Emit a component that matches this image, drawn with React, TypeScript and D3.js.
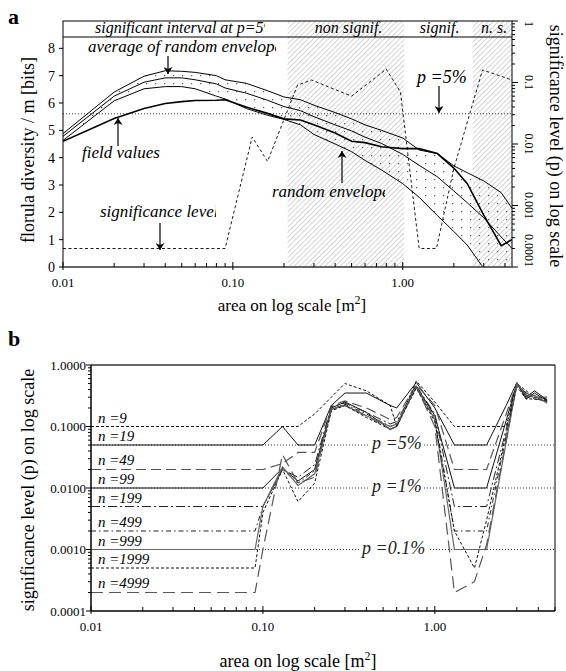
import React from 'react';
import * as d3 from 'd3';

// ---------- panel a data ----------
const areaTop = [0.01, 0.02, 0.03, 0.04, 0.05, 0.06, 0.08, 0.09, 0.12, 0.16, 0.2, 0.25, 0.3, 0.4, 0.5, 0.6, 0.75, 1.0, 1.25, 1.6, 2.0, 2.4, 3.0, 3.8, 4.4];
const upperEnvelope = [4.88, 6.4, 6.98, 7.18, 7.16, 7.12, 7.0, 6.85, 6.72, 6.45, 6.22, 6.12, 5.92, 5.65, 5.42, 5.2, 5.0, 4.72, 4.28, 4.15, 3.7, 3.45, 3.15, 2.72, 2.15];
const averageEnvelope = [4.78, 6.25, 6.76, 6.92, 6.92, 6.85, 6.7, 6.55, 6.36, 6.1, 5.87, 5.72, 5.5, 5.2, 4.98, 4.75, 4.52, 4.12, 3.72, 3.3, 2.78, 2.35, 1.8, 1.1, 0.68];
const lowerEnvelope = [4.63, 6.08, 6.52, 6.6, 6.6, 6.52, 6.25, 6.15, 5.8, 5.55, 5.4, 5.2, 4.85, 4.5, 4.22, 3.9, 3.55, 3.05, 2.55, 1.88, 1.3, 0.8, -0.05, -0.9, -1.5];
const fieldValues = [4.6, 5.43, 5.8, 5.98, 6.05, 6.09, 6.1, 6.12, 5.85, 5.62, 5.42, 5.38, 5.2, 4.9, 4.6, 4.55, 4.4, 4.33, 4.33, 4.15, 3.62, 3.05, 1.9, 0.78, 1.0];
const pArea = [0.01, 0.09, 0.13, 0.16, 0.24, 0.29, 0.5, 0.8, 0.97, 1.25, 1.58, 2.0, 2.95, 4.4];
const pValues = [0.0002, 0.0002, 0.013, 0.0052, 0.09, 0.11, 0.06, 0.165, 0.07, 0.0002, 0.0002, 0.004, 0.16, 0.11];
const pFiveLine = 0.031;
const hatchStart = [0.21, 2.58];
const hatchEnd = [1.02, 4.4];
const bandTexts = ['non signif.', 'signif.', 'n. s.'];
const bandCenters = [0.48, 1.65, 3.45];
const leftTicks = [0, 1, 2, 3, 4, 5, 6, 7, 8];
const xTickLabels = ['0.01', '0.10', '1.00'];
const xTickValues = [0.01, 0.1, 1];
const pTickValues = [1, 0.1, 0.01, 0.001, 0.0001];
const pTickLabels = ['1', '0.1', '0.01', '0.001', '0.0001'];

// ---------- panel b data ----------
const areaBottom = [0.01, 0.09, 0.1, 0.13, 0.16, 0.2, 0.25, 0.3, 0.4, 0.55, 0.6, 0.78, 1.0, 1.3, 1.7, 2.0, 2.6, 3.0, 3.4, 3.8, 4.5];
const pN9 = [0.1, 0.1, 0.1, 0.1, 0.1, 0.16, 0.3, 0.5, 0.38, 0.22, 0.1, 0.55, 0.25, 0.1, 0.1, 0.1, 0.1, 0.5, 0.38, 0.3, 0.28];
const pN19 = [0.05, 0.05, 0.05, 0.1, 0.05, 0.05, 0.22, 0.35, 0.35, 0.22, 0.2, 0.52, 0.2, 0.05, 0.05, 0.05, 0.22, 0.52, 0.3, 0.38, 0.27];
const pN49 = [0.02, 0.02, 0.02, 0.025, 0.038, 0.038, 0.22, 0.26, 0.2, 0.13, 0.14, 0.48, 0.22, 0.02, 0.02, 0.02, 0.16, 0.5, 0.35, 0.3, 0.3];
const pN99 = [0.01, 0.01, 0.01, 0.021, 0.013, 0.02, 0.2, 0.25, 0.17, 0.09, 0.1, 0.45, 0.15, 0.01, 0.01, 0.01, 0.125, 0.5, 0.28, 0.35, 0.26];
const pN199 = [0.005, 0.005, 0.005, 0.02, 0.015, 0.024, 0.21, 0.24, 0.17, 0.11, 0.12, 0.46, 0.16, 0.005, 0.005, 0.005, 0.09, 0.48, 0.35, 0.28, 0.27];
const pN499 = [0.002, 0.002, 0.005, 0.02, 0.012, 0.019, 0.19, 0.23, 0.16, 0.1, 0.11, 0.44, 0.14, 0.002, 0.002, 0.002, 0.07, 0.5, 0.3, 0.3, 0.25];
const pN999 = [0.001, 0.001, 0.005, 0.022, 0.011, 0.017, 0.19, 0.22, 0.15, 0.1, 0.11, 0.44, 0.13, 0.001, 0.001, 0.001, 0.056, 0.5, 0.32, 0.32, 0.24];
const pN1999 = [0.0005, 0.0005, 0.004, 0.02, 0.006, 0.012, 0.18, 0.22, 0.14, 0.09, 0.1, 0.42, 0.12, 0.002, 0.0005, 0.003, 0.076, 0.45, 0.28, 0.28, 0.26];
const pN4999 = [0.0002, 0.0002, 0.001, 0.035, 0.012, 0.015, 0.2, 0.22, 0.15, 0.09, 0.1, 0.45, 0.1, 0.0002, 0.0003, 0.0012, 0.06, 0.5, 0.32, 0.3, 0.25];
const nLabels = ['n =9', 'n =19', 'n =49', 'n =99', 'n =199', 'n =499', 'n =999', 'n =1999', 'n =4999'];
const nBase = [0.1, 0.05, 0.02, 0.01, 0.005, 0.002, 0.001, 0.0005, 0.0002];
const refLevels = [0.05, 0.01, 0.001];
const refLabels = ['p =5%', 'p =1%', 'p =0.1%'];
const bTickValues = [1, 0.1, 0.01, 0.001, 0.0001];
const bTickLabels = ['1.0000', '0.1000', '0.0100', '0.0010', '0.0001'];

const FONT = "'Liberation Serif', 'Times New Roman', Times, 'DejaVu Serif', serif";

const seriesB = [pN9, pN19, pN49, pN99, pN199, pN499, pN999, pN1999, pN4999];
const styleB = [
  { dash: '3,2', color: '#111', w: 1 },
  { dash: null, color: '#111', w: 1 },
  { dash: '10,5', color: '#555', w: 1.2 },
  { dash: null, color: '#111', w: 1 },
  { dash: '9,3,2,3', color: '#222', w: 1 },
  { dash: '5,3,1.5,3', color: '#222', w: 1 },
  { dash: null, color: '#666', w: 1.2 },
  { dash: '3,2', color: '#111', w: 1 },
  { dash: '12,6', color: '#555', w: 1.2 },
];

function minorTicks(min: number, max: number) {
  const out: number[] = [];
  for (let d = min; d < max; d *= 10) {
    for (let k = 2; k <= 9; k++) {
      const v = k * d;
      if (v <= max * 1.0001) out.push(v);
    }
  }
  return out;
}

export default function App() {
  const TL = 63, TR = 512, TT = 21, TB = 267, BAND = 37;
  const xT = d3.scaleLog().domain([0.01, 4.4]).range([TL, TR]);
  const yT = d3.scaleLinear().domain([0, 9]).range([TB, TT]);
  const pT = d3.scaleLog().domain([0.0001, 1]).range([TB, TT]);

  const BL = 91, BR = 555, BT = 365, BB = 611;
  const xB = d3.scaleLog().domain([0.01, 5]).range([BL, BR]);
  const yB = d3.scaleLog().domain([0.0001, 1]).range([BB, BT]);

  const lineT = d3.line<[number, number]>().x(d => xT(d[0])).y(d => yT(d[1]));
  const areaGen = d3.area<number>()
    .x((_, i) => xT(areaTop[i]))
    .y0((_, i) => yT(lowerEnvelope[i]))
    .y1((_, i) => yT(upperEnvelope[i]));
  const pLine = d3.line<[number, number]>().x(d => xT(d[0])).y(d => pT(d[1]));
  const lineB = d3.line<[number, number]>().x(d => xB(d[0])).y(d => yB(d[1]));

  const zip = (xs: number[], ys: number[]) => xs.map((x, i) => [x, ys[i]] as [number, number]);

  const minorT = minorTicks(0.01, 4.4).filter(v => ![0.1, 1].some(m => Math.abs(m - v) < 1e-9));
  const minorB = minorTicks(0.01, 5).filter(v => ![0.1, 1].some(m => Math.abs(m - v) < 1e-9));
  const minorP = minorTicks(0.0001, 1).filter(v => v < 0.99 && ![0.001, 0.01, 0.1, 1].some(m => Math.abs(m - v) / m < 1e-6));

  const serif = { fontFamily: FONT } as React.CSSProperties;
  const ital = { fontFamily: FONT, fontStyle: 'italic' } as React.CSSProperties;

  return (
    <svg width={566} height={671} style={{ position: 'absolute', left: 0, top: 0, background: '#fff', fontFamily: FONT }}>
      <defs>
        <pattern id="hatch" width="3.6" height="3.6" patternUnits="userSpaceOnUse" patternTransform="rotate(45)">
          <line x1="0" y1="0" x2="0" y2="3.6" stroke="#a0a0a0" strokeWidth="0.9" />
        </pattern>
        <pattern id="dots" width="9" height="8" patternUnits="userSpaceOnUse" x="2" y="3">
          <rect x="0" y="0" width="1.2" height="1.2" fill="#555" />
        </pattern>
        <clipPath id="clipTop"><rect x={TL} y={BAND} width={TR - TL} height={TB - BAND} /></clipPath>
        <clipPath id="clipBand1"><rect x={TL} y={TT} width={265 - TL} height={BAND - TT} /></clipPath>
        <clipPath id="clipAvg"><rect x={TL} y={30} width={276 - TL} height={30} /></clipPath>
        <clipPath id="clipSig"><rect x={TL} y={195} width={216 - TL} height={30} /></clipPath>
        <clipPath id="clipRand"><rect x={250} y={180} width={385 - 250} height={25} /></clipPath>
        <clipPath id="clipBot"><rect x={BL} y={BT} width={BR - BL} height={BB - BT} /></clipPath>
        <marker id="arr" viewBox="0 0 10 10" refX="10" refY="5" markerWidth="7" markerHeight="9"
          markerUnits="userSpaceOnUse" orient="auto" preserveAspectRatio="none">
          <path d="M0,0 L10,5 L0,10 L3,5 z" fill="#000" />
        </marker>
      </defs>

      {/* ================= PANEL A ================= */}
      <text x={8} y={24} fontSize={22} fontWeight="bold" style={serif}>a</text>

      {hatchStart.map((s, i) => (
        <rect key={'h' + i} x={xT(s)} y={TT} width={xT(hatchEnd[i]) - xT(s)} height={TB - TT} fill="url(#hatch)" />
      ))}

      <g clipPath="url(#clipTop)">
        <path d={areaGen(areaTop) || ''} fill="url(#dots)" />
        <line x1={TL} x2={TR} y1={pT(pFiveLine)} y2={pT(pFiveLine)} stroke="#000" strokeWidth={0.8} strokeDasharray="1,2" />
        <path d={pLine(zip(pArea, pValues)) || ''} fill="none" stroke="#000" strokeWidth={0.9} strokeDasharray="3,2.5" />
        <path d={lineT(zip(areaTop, upperEnvelope)) || ''} fill="none" stroke="#000" strokeWidth={1} />
        <path d={lineT(zip(areaTop, averageEnvelope)) || ''} fill="none" stroke="#000" strokeWidth={1} />
        <path d={lineT(zip(areaTop, lowerEnvelope)) || ''} fill="none" stroke="#000" strokeWidth={1} />
        <path d={lineT(zip(areaTop, fieldValues)) || ''} fill="none" stroke="#000" strokeWidth={1.6} />
      </g>

      <rect x={TL} y={TT} width={TR - TL} height={TB - TT} fill="none" stroke="#000" strokeWidth={1} />
      <line x1={TL} x2={TR} y1={BAND} y2={BAND} stroke="#000" strokeWidth={1} />
      <line x1={TL} x2={TR} y1={TB} y2={TB} stroke="#666" strokeWidth={1.8} />
      <text x={95} y={33} fontSize={16} style={ital} clipPath="url(#clipBand1)">significant interval at p=5%</text>
      {bandTexts.map((t, i) => (
        <text key={'bt' + i} x={xT(bandCenters[i])} y={33} fontSize={16} textAnchor="middle" style={ital}>{t}</text>
      ))}

      {leftTicks.map(v => (
        <g key={'lt' + v}>
          <line x1={TL - 4} x2={TL} y1={yT(v)} y2={yT(v)} stroke="#000" />
          <text x={TL - 8} y={yT(v)} dy="0.35em" fontSize={14} textAnchor="end" style={serif}>{v}</text>
        </g>
      ))}
      {minorT.map((v, i) => (
        <line key={'mt' + i} x1={xT(v)} x2={xT(v)} y1={TB - 4} y2={TB} stroke="#000" />
      ))}
      {xTickValues.map((v, i) => (
        <g key={'xt' + i}>
          <line x1={xT(v)} x2={xT(v)} y1={TB - 5} y2={TB + 3} stroke="#000" />
          <text x={xT(v)} y={287} fontSize={13} textAnchor="middle" style={serif}>{xTickLabels[i]}</text>
        </g>
      ))}
      {minorP.map((v, i) => (
        <line key={'mp' + i} x1={TR} x2={TR + 3} y1={pT(v)} y2={pT(v)} stroke="#000" />
      ))}
      {pTickValues.map((v, i) => (
        <g key={'pt' + i}>
          <line x1={TR} x2={TR + 6} y1={pT(v)} y2={pT(v)} stroke="#000" />
          <text transform={`translate(${525},${pT(v)}) rotate(90)`} fontSize={12} style={serif}
            textAnchor={i === pTickValues.length - 1 ? 'end' : i === 0 ? 'start' : 'middle'}>{pTickLabels[i]}</text>
        </g>
      ))}

      <text transform={`translate(34,${150}) rotate(-90)`} fontSize={18} textAnchor="middle" style={serif}>florula diversity / m  [bits]</text>
      <text transform={`translate(550,${146}) rotate(90)`} fontSize={18} textAnchor="middle" style={serif}>significance level (p) on log scale</text>
      <text x={292} y={311} fontSize={17} textAnchor="middle" style={serif}>area on log scale  [m<tspan dy={-7} fontSize={12}>2</tspan><tspan dy={7}>]</tspan></text>

      <text x={88} y={52} fontSize={17} style={ital} clipPath="url(#clipAvg)">average of random envelope</text>
      <line x1={168} x2={168} y1={56} y2={74} stroke="#000" strokeWidth={1.2} markerEnd="url(#arr)" />
      <text x={82} y={158} fontSize={17} style={ital}>field values</text>
      <line x1={118} x2={118} y1={146} y2={118} stroke="#000" strokeWidth={1.2} markerEnd="url(#arr)" />
      <text x={100} y={217} fontSize={17} style={ital} clipPath="url(#clipSig)">significance level</text>
      <line x1={160} x2={160} y1={223} y2={250} stroke="#000" strokeWidth={1.2} markerEnd="url(#arr)" />
      <text x={272} y={197} fontSize={17} style={ital} clipPath="url(#clipRand)">random envelope</text>
      <line x1={342} x2={342} y1={183} y2={151} stroke="#000" strokeWidth={1.2} markerEnd="url(#arr)" />
      <text x={417} y={83} fontSize={18} style={ital}>p =5%</text>
      <line x1={439} x2={439} y1={86} y2={113} stroke="#000" strokeWidth={1.2} markerEnd="url(#arr)" />

      {/* ================= PANEL B ================= */}
      <text x={8} y={346} fontSize={22} fontWeight="bold" style={serif}>b</text>

      <g clipPath="url(#clipBot)">
        {refLevels.map((v, i) => (
          <line key={'rl' + i} x1={BL} x2={BR} y1={yB(v)} y2={yB(v)} stroke="#000" strokeWidth={0.8} strokeDasharray="1,2" />
        ))}
        {seriesB.map((s, i) => (
          <path key={'sb' + i} d={lineB(zip(areaBottom, s)) || ''} fill="none" stroke={styleB[i].color}
            strokeWidth={styleB[i].w} strokeDasharray={styleB[i].dash || undefined} />
        ))}
      </g>

      {refLevels.map((v, i) => {
        const x0 = i === 2 ? 362 : 372;
        const w = i === 2 ? 70 : 54;
        return (
          <g key={'rlab' + i}>
            <rect x={x0 - 2} y={yB(v) - 13} width={w} height={19} fill="#fff" />
            <text x={x0} y={yB(v) + 4} fontSize={18} style={ital} fill="#222">{refLabels[i]}</text>
          </g>
        );
      })}

      {nLabels.map((t, i) => (
        <text key={'nl' + i} x={98} y={yB(nBase[i]) - 4} fontSize={15} style={ital}>{t}</text>
      ))}

      <line x1={BL} x2={BR} y1={BT} y2={BT} stroke="#666" strokeWidth={1.8} />
      <line x1={BR} x2={BR} y1={BT} y2={BB} stroke="#000" strokeWidth={1} />
      <line x1={BL} x2={BL} y1={BT} y2={BB} stroke="#000" strokeWidth={1.5} />
      <line x1={BL} x2={BR} y1={BB} y2={BB} stroke="#000" strokeWidth={1.5} />

      {minorP.map((v, i) => (
        <line key={'mb' + i} x1={BL - 3} x2={BL} y1={yB(v)} y2={yB(v)} stroke="#000" />
      ))}
      {bTickValues.map((v, i) => (
        <g key={'bt' + i}>
          <line x1={BL - 5} x2={BL} y1={yB(v)} y2={yB(v)} stroke="#000" />
          <text x={BL - 5} y={yB(v)} dy="0.35em" fontSize={13} textAnchor="end" style={serif}>{bTickLabels[i]}</text>
        </g>
      ))}
      {minorB.map((v, i) => (
        <line key={'mxb' + i} x1={xB(v)} x2={xB(v)} y1={BB - 4} y2={BB} stroke="#000" />
      ))}
      {xTickValues.map((v, i) => (
        <g key={'xb' + i}>
          <line x1={xB(v)} x2={xB(v)} y1={BB - 5} y2={BB + 3} stroke="#000" />
          <text x={xB(v)} y={631} fontSize={13} textAnchor="middle" style={serif}>{xTickLabels[i]}</text>
        </g>
      ))}

      <text transform={`translate(34,${490}) rotate(-90)`} fontSize={18} textAnchor="middle" style={serif}>significance level (p) on log scale</text>
      <text x={298} y={667} fontSize={18} textAnchor="middle" style={serif}>area on log scale  [m<tspan dy={-7} fontSize={12}>2</tspan><tspan dy={7}>]</tspan></text>
    </svg>
  );
}
